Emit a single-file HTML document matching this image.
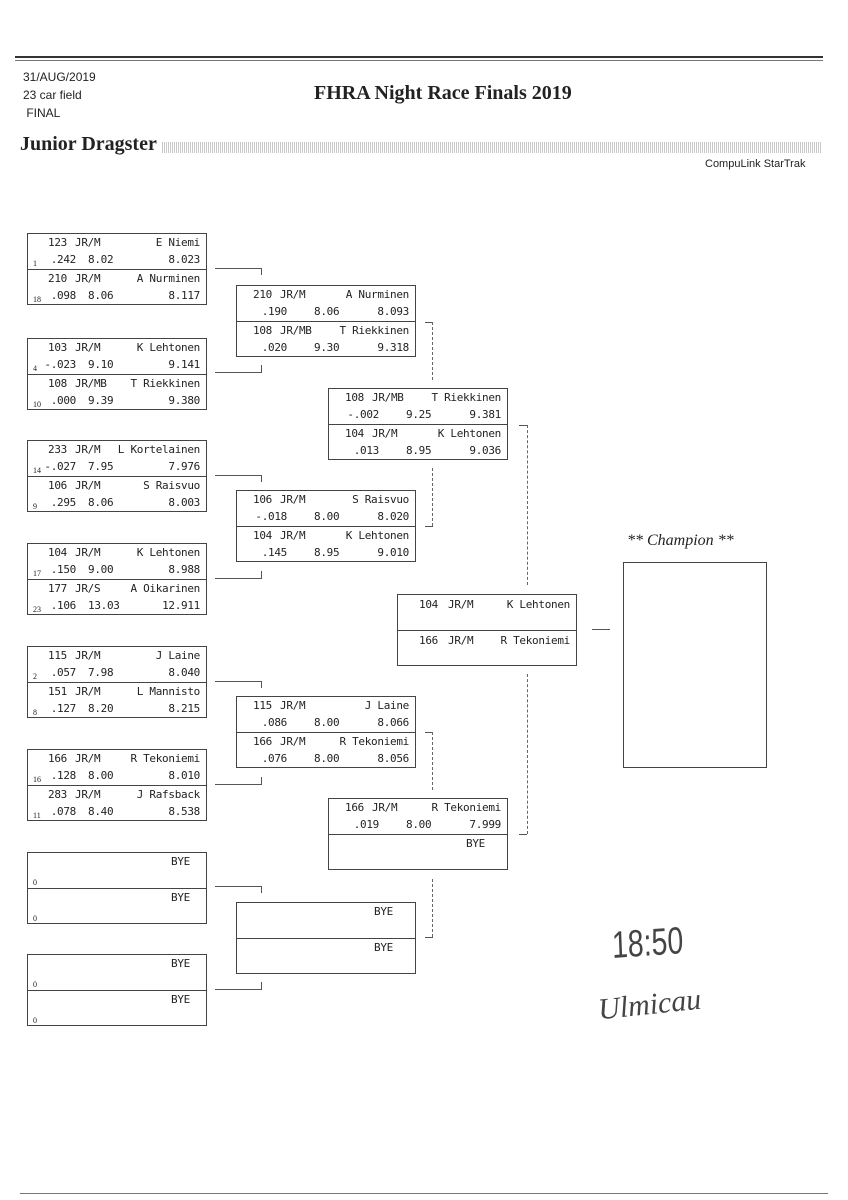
<!DOCTYPE html>
<html><head><meta charset="utf-8"><style>
body{margin:0;width:848px;height:1200px;background:#fff;position:relative;overflow:hidden;font-family:"DejaVu Sans Mono",monospace;color:#222}
.a{position:absolute}
.box{position:absolute;width:178px;height:70px;border:1px solid #444}
.h{position:absolute;left:0;width:178px;height:35px}
.h2{top:35px;border-top:1px solid #444}
.h span{position:absolute;font-size:11px;line-height:14px;white-space:nowrap;letter-spacing:-0.3px}
.t{top:2px}.b{top:19px}
.n{left:20px}.c{left:47px}.r{right:6px}.rt{left:6px;width:42px;text-align:right}.et{left:60px}
.m .et{left:77px}.m .rt{left:10px;width:40px}.m .n{left:16px}.m .c{left:43px}
.sd{left:5px;font-family:"Liberation Serif",serif!important;font-size:8px!important;top:23px!important;letter-spacing:0!important}
.hl{position:absolute;height:1px;background:#555}
.vl{position:absolute;width:1px;background:#555}
.dv{position:absolute;width:0;border-left:1px dashed #666}
</style></head><body>
<div class="a" style="left:15px;top:56px;width:808px;height:2px;background:#333"></div>
<div class="a" style="left:15px;top:60px;width:808px;height:1px;background:#777"></div>
<div class="a" style="left:23px;top:68px;font-size:12px;line-height:18px;font-family:'Liberation Sans Narrow','Liberation Sans',sans-serif">31/AUG/2019<br>23 car field<br>&nbsp;FINAL</div>
<div class="a" style="left:314px;top:82px;font-family:'Liberation Serif',serif;font-weight:bold;font-size:20px">FHRA Night Race Finals 2019</div>
<div class="a" style="left:20px;top:133px;font-family:'Liberation Serif',serif;font-weight:bold;font-size:20px">Junior Dragster</div>
<div class="a" style="left:162px;top:142px;width:660px;height:11px;background:repeating-linear-gradient(90deg,#bbb 0 1px,#fff 1px 2px),#ddd;opacity:.8"></div>
<div class="a" style="left:705px;top:158px;font-size:11px;font-family:'Liberation Sans Narrow','Liberation Sans',sans-serif">CompuLink StarTrak</div>

<!-- Round 1 -->
<div class="box" style="left:27px;top:233px"><div class="h"><span class="t n">123</span><span class="t c">JR/M</span><span class="t r">E Niemi</span><span class="sd">1</span><span class="b rt">.242</span><span class="b et">8.02</span><span class="b r">8.023</span></div><div class="h h2"><span class="t n">210</span><span class="t c">JR/M</span><span class="t r">A Nurminen</span><span class="sd">18</span><span class="b rt">.098</span><span class="b et">8.06</span><span class="b r">8.117</span></div></div>
<div class="box" style="left:27px;top:338px"><div class="h"><span class="t n">103</span><span class="t c">JR/M</span><span class="t r">K Lehtonen</span><span class="sd">4</span><span class="b rt">-.023</span><span class="b et">9.10</span><span class="b r">9.141</span></div><div class="h h2"><span class="t n">108</span><span class="t c">JR/MB</span><span class="t r">T Riekkinen</span><span class="sd">10</span><span class="b rt">.000</span><span class="b et">9.39</span><span class="b r">9.380</span></div></div>
<div class="box" style="left:27px;top:440px"><div class="h"><span class="t n">233</span><span class="t c">JR/M</span><span class="t r">L Kortelainen</span><span class="sd">14</span><span class="b rt">-.027</span><span class="b et">7.95</span><span class="b r">7.976</span></div><div class="h h2"><span class="t n">106</span><span class="t c">JR/M</span><span class="t r">S Raisvuo</span><span class="sd">9</span><span class="b rt">.295</span><span class="b et">8.06</span><span class="b r">8.003</span></div></div>
<div class="box" style="left:27px;top:543px"><div class="h"><span class="t n">104</span><span class="t c">JR/M</span><span class="t r">K Lehtonen</span><span class="sd">17</span><span class="b rt">.150</span><span class="b et">9.00</span><span class="b r">8.988</span></div><div class="h h2"><span class="t n">177</span><span class="t c">JR/S</span><span class="t r">A Oikarinen</span><span class="sd">23</span><span class="b rt">.106</span><span class="b et">13.03</span><span class="b r">12.911</span></div></div>
<div class="box" style="left:27px;top:646px"><div class="h"><span class="t n">115</span><span class="t c">JR/M</span><span class="t r">J Laine</span><span class="sd">2</span><span class="b rt">.057</span><span class="b et">7.98</span><span class="b r">8.040</span></div><div class="h h2"><span class="t n">151</span><span class="t c">JR/M</span><span class="t r">L Mannisto</span><span class="sd">8</span><span class="b rt">.127</span><span class="b et">8.20</span><span class="b r">8.215</span></div></div>
<div class="box" style="left:27px;top:749px"><div class="h"><span class="t n">166</span><span class="t c">JR/M</span><span class="t r">R Tekoniemi</span><span class="sd">16</span><span class="b rt">.128</span><span class="b et">8.00</span><span class="b r">8.010</span></div><div class="h h2"><span class="t n">283</span><span class="t c">JR/M</span><span class="t r">J Rafsback</span><span class="sd">11</span><span class="b rt">.078</span><span class="b et">8.40</span><span class="b r">8.538</span></div></div>
<div class="box" style="left:27px;top:852px"><div class="h"><span class="t r" style="right:16px">BYE</span><span class="sd">0</span></div><div class="h h2"><span class="t r" style="right:16px">BYE</span><span class="sd">0</span></div></div>
<div class="box" style="left:27px;top:954px"><div class="h"><span class="t r" style="right:16px">BYE</span><span class="sd">0</span></div><div class="h h2"><span class="t r" style="right:16px">BYE</span><span class="sd">0</span></div></div>

<!-- Round 2 -->
<div class="box m" style="left:236px;top:285px"><div class="h"><span class="t n">210</span><span class="t c">JR/M</span><span class="t r">A Nurminen</span><span class="b rt">.190</span><span class="b et">8.06</span><span class="b r">8.093</span></div><div class="h h2"><span class="t n">108</span><span class="t c">JR/MB</span><span class="t r">T Riekkinen</span><span class="b rt">.020</span><span class="b et">9.30</span><span class="b r">9.318</span></div></div>
<div class="box m" style="left:236px;top:490px"><div class="h"><span class="t n">106</span><span class="t c">JR/M</span><span class="t r">S Raisvuo</span><span class="b rt">-.018</span><span class="b et">8.00</span><span class="b r">8.020</span></div><div class="h h2"><span class="t n">104</span><span class="t c">JR/M</span><span class="t r">K Lehtonen</span><span class="b rt">.145</span><span class="b et">8.95</span><span class="b r">9.010</span></div></div>
<div class="box m" style="left:236px;top:696px"><div class="h"><span class="t n">115</span><span class="t c">JR/M</span><span class="t r">J Laine</span><span class="b rt">.086</span><span class="b et">8.00</span><span class="b r">8.066</span></div><div class="h h2"><span class="t n">166</span><span class="t c">JR/M</span><span class="t r">R Tekoniemi</span><span class="b rt">.076</span><span class="b et">8.00</span><span class="b r">8.056</span></div></div>
<div class="box m" style="left:236px;top:902px"><div class="h"><span class="t r" style="right:22px">BYE</span></div><div class="h h2"><span class="t r" style="right:22px">BYE</span></div></div>

<!-- Round 3 -->
<div class="box m" style="left:328px;top:388px"><div class="h"><span class="t n">108</span><span class="t c">JR/MB</span><span class="t r">T Riekkinen</span><span class="b rt">-.002</span><span class="b et">9.25</span><span class="b r">9.381</span></div><div class="h h2"><span class="t n">104</span><span class="t c">JR/M</span><span class="t r">K Lehtonen</span><span class="b rt">.013</span><span class="b et">8.95</span><span class="b r">9.036</span></div></div>
<div class="box m" style="left:328px;top:798px"><div class="h"><span class="t n">166</span><span class="t c">JR/M</span><span class="t r">R Tekoniemi</span><span class="b rt">.019</span><span class="b et">8.00</span><span class="b r">7.999</span></div><div class="h h2"><span class="t r" style="right:22px">BYE</span></div></div>

<!-- Final -->
<div class="box" style="left:397px;top:594px"><div class="h"><span class="t n" style="left:21px;top:3px">104</span><span class="t c" style="left:50px;top:3px">JR/M</span><span class="t r" style="top:3px">K Lehtonen</span></div><div class="h h2"><span class="t n" style="left:21px;top:3px">166</span><span class="t c" style="left:50px;top:3px">JR/M</span><span class="t r" style="top:3px">R Tekoniemi</span></div></div>
<div class="hl" style="left:592px;top:629px;width:18px"></div>

<!-- Champion -->
<div class="a" style="left:627px;top:532px;font-family:'Liberation Serif',serif;font-style:italic;font-size:16px">** Champion **</div>
<div class="a" style="left:623px;top:562px;width:142px;height:204px;border:1px solid #444"></div>

<!-- R1 connectors -->
<div class="hl" style="left:215px;top:268px;width:47px"></div><div class="vl" style="left:261px;top:268px;height:7px"></div>
<div class="hl" style="left:215px;top:372px;width:47px"></div><div class="vl" style="left:261px;top:365px;height:7px"></div>
<div class="hl" style="left:215px;top:475px;width:47px"></div><div class="vl" style="left:261px;top:475px;height:7px"></div>
<div class="hl" style="left:215px;top:578px;width:47px"></div><div class="vl" style="left:261px;top:571px;height:7px"></div>
<div class="hl" style="left:215px;top:681px;width:47px"></div><div class="vl" style="left:261px;top:681px;height:7px"></div>
<div class="hl" style="left:215px;top:784px;width:47px"></div><div class="vl" style="left:261px;top:777px;height:7px"></div>
<div class="hl" style="left:215px;top:886px;width:47px"></div><div class="vl" style="left:261px;top:886px;height:7px"></div>
<div class="hl" style="left:215px;top:989px;width:47px"></div><div class="vl" style="left:261px;top:982px;height:7px"></div>
<!-- R2 connectors -->
<div class="hl" style="left:425px;top:322px;width:8px"></div><div class="dv" style="left:432px;top:322px;height:58px"></div>
<div class="hl" style="left:425px;top:526px;width:8px"></div><div class="dv" style="left:432px;top:468px;height:58px"></div>
<div class="hl" style="left:425px;top:732px;width:8px"></div><div class="dv" style="left:432px;top:732px;height:58px"></div>
<div class="hl" style="left:425px;top:937px;width:8px"></div><div class="dv" style="left:432px;top:879px;height:58px"></div>
<!-- R3 connectors -->
<div class="hl" style="left:519px;top:425px;width:8px"></div><div class="dv" style="left:527px;top:425px;height:160px"></div>
<div class="hl" style="left:519px;top:834px;width:8px"></div><div class="dv" style="left:527px;top:674px;height:160px"></div>

<!-- handwriting -->
<div class="a" style="left:612px;top:925px;font-family:'Liberation Sans Narrow','Liberation Sans',sans-serif;font-weight:300;font-size:38px;color:#444;transform:scaleX(.75) rotate(-3deg);transform-origin:left">18:50</div>
<div class="a" style="left:598px;top:988px;font-family:'Liberation Serif',serif;font-style:italic;font-size:30px;color:#444;transform:rotate(-6deg)">Ulmicau</div>

<div class="a" style="left:20px;top:1193px;width:808px;height:1px;background:#777"></div>
</body></html>
